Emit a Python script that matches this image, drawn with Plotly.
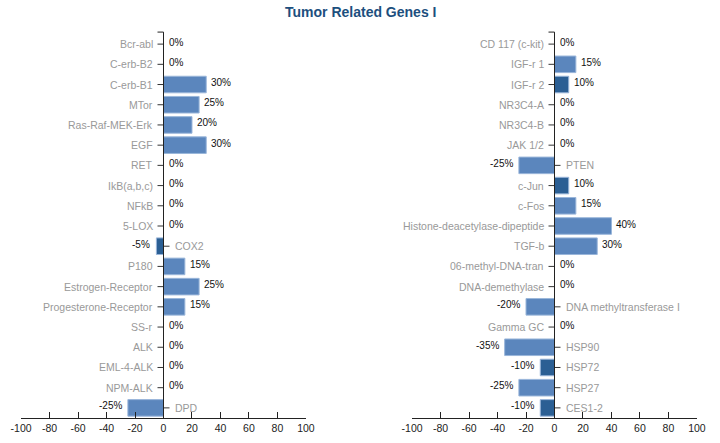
import plotly.graph_objects as go

left_genes = ["Bcr-abl", "C-erb-B2", "C-erb-B1", "MTor", "Ras-Raf-MEK-Erk", "EGF", "RET",
              "IkB(a,b,c)", "NFkB", "5-LOX", "COX2", "P180", "Estrogen-Receptor",
              "Progesterone-Receptor", "SS-r", "ALK", "EML-4-ALK", "NPM-ALK", "DPD"]
left_values = [0, 0, 30, 25, 20, 30, 0, 0, 0, 0, -5, 15, 25, 15, 0, 0, 0, 0, -25]
left_dark = [False]*10 + [True] + [False]*8

right_genes = ["CD 117 (c-kit)", "IGF-r 1", "IGF-r 2", "NR3C4-A", "NR3C4-B", "JAK 1/2", "PTEN",
               "c-Jun", "c-Fos", "Histone-deacetylase-dipeptide", "TGF-b", "06-methyl-DNA-tran",
               "DNA-demethylase", "DNA methyltransferase I", "Gamma GC", "HSP90", "HSP72",
               "HSP27", "CES1-2"]
right_values = [0, 15, 10, 0, 0, 0, -25, 10, 15, 40, 30, 0, 0, -20, 0, -35, -10, -25, -10]
right_dark = [False, False, True, False, False, False, False, True, False, False, False,
              False, False, False, False, False, True, False, True]

x_ticks = [-100, -80, -60, -40, -20, 0, 20, 40, 60, 80, 100]
x_tick_text = [str(t) for t in x_ticks]
title = "Tumor Related Genes I"

LIGHT = "#5b86bd"
DARK = "#2b5f94"
FONT = "Liberation Sans, Arial, sans-serif"

fig = go.Figure()
annotations = []
shapes = []

panels = [
    (left_genes, left_values, left_dark, "x", "y", [21/720, 306/720]),
    (right_genes, right_values, right_dark, "x2", "y2", [412/720, 697/720]),
]
ydom = [1 - 418/443, 1 - 34/443]

for i, (genes, vals, dark, xr, yr, xdom) in enumerate(panels):
    colors = [DARK if d else LIGHT for d in dark]
    fig.add_trace(go.Bar(
        x=vals, y=genes, orientation="h", width=0.82,
        marker=dict(color=colors, line=dict(color="#9ab6da", width=1)),
        xaxis=xr, yaxis=yr, hoverinfo="skip", showlegend=False,
    ))
    ydn = "y domain" if yr == "y" else "y2 domain"
    for g, v in zip(genes, vals):
        neg = v < 0
        # category label
        annotations.append(dict(
            x=0, y=g, xref=xr, yref=yr, text=g, showarrow=False,
            xanchor="left" if neg else "right", xshift=9 if neg else -9,
            font=dict(family=FONT, size=10.5, color="#999999"),
        ))
        # value label
        annotations.append(dict(
            x=v, y=g, xref=xr, yref=yr, text=f"{v}%", showarrow=False,
            xanchor="right" if neg else "left", xshift=-4 if neg else 3, yshift=2,
            font=dict(family=FONT, size=10, color="#111111"),
        ))
        # tick mark
        shapes.append(dict(
            type="line", xref=xr, yref=yr, xsizemode="pixel", xanchor=0,
            x0=0 if neg else -6, x1=6 if neg else 0, y0=g, y1=g,
            line=dict(color="#333333", width=1),
        ))
    # y axis line
    shapes.append(dict(type="line", xref=xr, yref=ydn, x0=0, x1=0, y0=0, y1=1.005,
                       line=dict(color="#222222", width=1)))
    shapes.append(dict(type="line", xref=xr, yref=ydn, xsizemode="pixel", xanchor=0,
                       x0=-6, x1=0, y0=1.005, y1=1.005,
                       line=dict(color="#222222", width=1)))

    axx = dict(domain=xdom, range=[-100.05, 100.05], tickvals=x_ticks, ticktext=x_tick_text,
               ticks="inside", ticklen=6, tickcolor="#222222", showline=True,
               linecolor="#222222", linewidth=1, showgrid=False, zeroline=False,
               tickfont=dict(family=FONT, size=10.5, color="#222222"),
               anchor=yr, fixedrange=True, automargin=False)
    axy = dict(domain=ydom, categoryorder="array", categoryarray=genes,
               range=[len(genes) - 0.5, -0.5], showticklabels=False, showgrid=False,
               zeroline=False, showline=False, ticks="", anchor=xr, fixedrange=True,
               automargin=False)
    if i == 0:
        fig.update_layout(xaxis=axx, yaxis=axy)
    else:
        fig.update_layout(xaxis2=axx, yaxis2=axy)

annotations.append(dict(x=0.5, y=1 - 12/443, xref="paper", yref="paper", text=f"<b>{title}</b>",
                        showarrow=False, xanchor="center", yanchor="middle",
                        font=dict(family=FONT, size=14, color="#1d4f7e")))

fig.update_layout(
    width=720, height=443,
    margin=dict(l=0, r=0, t=0, b=0, pad=0, autoexpand=False),
    paper_bgcolor="white", plot_bgcolor="white",
    annotations=annotations, shapes=shapes, bargap=0.18,
)

fig.write_html("out.html", config={"displayModeBar": False},
               post_script="document.body.style.margin='0';document.body.style.overflow='hidden';")
